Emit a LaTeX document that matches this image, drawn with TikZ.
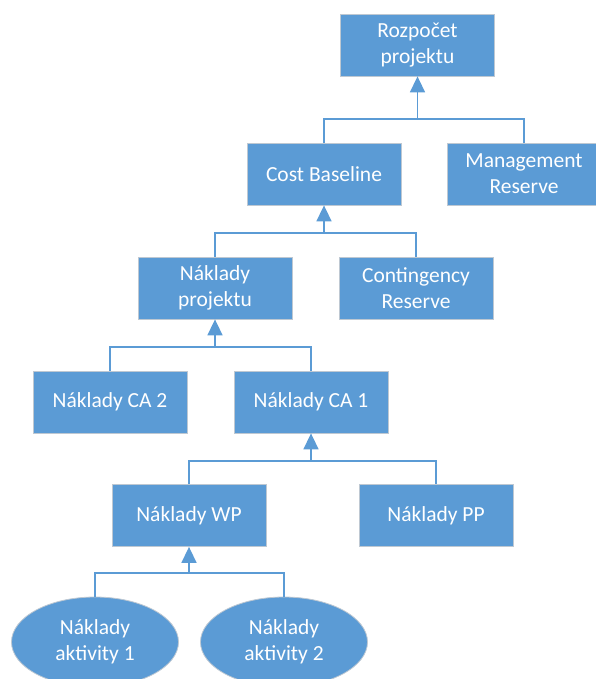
\documentclass[tikz,border=0pt]{standalone}
\usepackage{fontspec}
\setmainfont{Carlito}
\usetikzlibrary{arrows.meta,shapes.geometric}
\definecolor{boxblue}{RGB}{91,155,213}
\definecolor{edgegray}{RGB}{190,200,210}
\tikzset{
  box/.style={rectangle, fill=boxblue, draw=edgegray, line width=0.8pt,
    minimum width=154pt, minimum height=62pt, align=center, text=white,
    font=\fontsize{21.5}{26}\selectfont, inner sep=2pt},
  oval/.style={ellipse, fill=boxblue, draw=edgegray, line width=0.8pt,
    minimum width=167pt, minimum height=90pt, align=center, text=white,
    font=\fontsize{21.5}{26}\selectfont, inner sep=0pt},
  link/.style={draw=boxblue, line width=1.6pt},
  up/.style={link, -{Triangle[width=15pt,length=16pt]}}
}
\begin{document}
\begin{tikzpicture}[x=1pt,y=-1pt]
\useasboundingbox (0,0) rectangle (595,679);
\node[box] (root) at (417.5,45) {Rozpočet\\projektu};
\node[box] (cb) at (324,174) {Cost Baseline};
\node[box] (mr) at (524,174) {Management\\Reserve};
\node[box] (np) at (215,288) {Náklady\\projektu};
\node[box] (cr) at (416,288) {Contingency\\Reserve};
\node[box] (ca2) at (110,402) {Náklady CA 2};
\node[box] (ca1) at (311,402) {Náklady CA 1};
\node[box] (wp) at (189,515.5) {Náklady WP};
\node[box] (pp) at (436,515.5) {Náklady PP};
\node[oval] (a1) at (95,642) {Náklady\\aktivity 1};
\node[oval] (a2) at (284,642) {Náklady\\aktivity 2};
\coordinate (y1) at (0,119);
\coordinate (y2) at (0,233);
\coordinate (y3) at (0,347);
\coordinate (y4) at (0,461);
\coordinate (y5) at (0,573);
% level 1
\draw[link] (cb.north) |- (mr.north |- y1) -- (mr.north);
\draw[up] (root.south |- y1) -- (root.south);
% level 2
\draw[link] (np.north) |- (cr.north |- y2) -- (cr.north);
\draw[up] (cb.south |- y2) -- (cb.south);
% level 3
\draw[link] (ca2.north) |- (ca1.north |- y3) -- (ca1.north);
\draw[up] (np.south |- y3) -- (np.south);
% level 4
\draw[link] (wp.north) |- (pp.north |- y4) -- (pp.north);
\draw[up] (ca1.south |- y4) -- (ca1.south);
% level 5
\draw[link] (a1.north) |- (a2.north |- y5) -- (a2.north);
\draw[up] (wp.south |- y5) -- (wp.south);
\end{tikzpicture}
\end{document}
